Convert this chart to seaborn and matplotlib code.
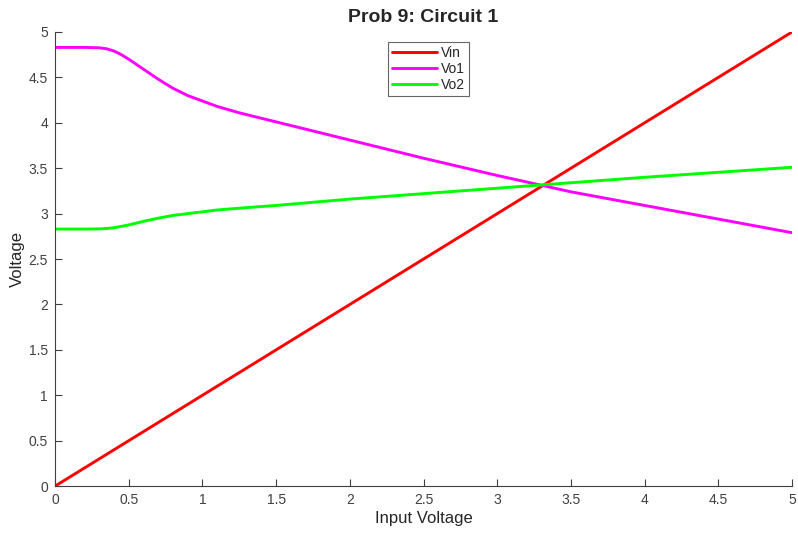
import numpy as np
import pandas as pd
import matplotlib
matplotlib.use("Agg")
import matplotlib.pyplot as plt
import seaborn as sns

# sweep values
vin = [0, 0.2, 0.3, 0.35, 0.4, 0.45, 0.5, 0.6, 0.7, 0.8, 0.9, 1.0, 1.1, 1.25, 1.5, 2.0, 2.5, 3.0, 3.5, 4.0, 4.5, 5.0]
vo1 = [4.83, 4.83, 4.826, 4.815, 4.79, 4.75, 4.70, 4.59, 4.48, 4.38, 4.30, 4.24, 4.18, 4.11, 4.01,
       3.81, 3.61, 3.42, 3.24, 3.09, 2.94, 2.79]
vo2 = [2.83, 2.83, 2.832, 2.836, 2.845, 2.86, 2.875, 2.915, 2.95, 2.98, 3.00, 3.02, 3.04, 3.06, 3.09,
       3.16, 3.22, 3.28, 3.34, 3.40, 3.455, 3.51]

df = pd.DataFrame({
    "x": vin * 3,
    "y": vin + vo1 + vo2,
    "series": ["Vin"] * len(vin) + ["Vo1"] * len(vin) + ["Vo2"] * len(vin),
})

sns.set_style("white")
plt.rcParams["font.family"] = ["Liberation Sans", "DejaVu Sans"]

fig = plt.figure(figsize=(7.98, 5.33), dpi=100)
ax = fig.add_axes([0.069, 0.088, 0.9235, 0.852])

sns.lineplot(data=df, x="x", y="y", hue="series",
             palette={"Vin": "#ff0000", "Vo1": "#ff00ff", "Vo2": "#00ff00"},
             linewidth=2.1, ax=ax)

ticks = np.arange(0, 5.01, 0.5)
ax.set_xlim(0, 5)
ax.set_ylim(0, 5)
ax.set_xticks(ticks)
ax.set_yticks(ticks)
ax.set_xticklabels([f"{v:g}" for v in ticks])
ax.set_yticklabels([f"{v:g}" for v in ticks])
ax.tick_params(direction="in", length=5, colors="#404040", labelsize=10, width=0.8,
               bottom=True, left=True, pad=5)

for s in ["top", "right"]:
    ax.spines[s].set_visible(False)
for s in ["left", "bottom"]:
    ax.spines[s].set_color("#404040")
    ax.spines[s].set_linewidth(0.8)

ax.set_xlabel("Input Voltage", fontsize=12, color="#262626", labelpad=3)
ax.set_ylabel("Voltage", fontsize=12, color="#262626", labelpad=3)
ax.set_title("Prob 9: Circuit 1", fontsize=14, fontweight="bold", pad=7)

leg = ax.legend(loc="upper left", bbox_to_anchor=(0.452, 0.978), fontsize=10,
                frameon=True, fancybox=False, handlelength=3.2, handletextpad=0.3,
                borderpad=0.3, labelspacing=0.15, borderaxespad=0)
leg.get_frame().set_edgecolor("#404040")
leg.get_frame().set_linewidth(0.8)

fig.savefig("out.png", dpi=100)
